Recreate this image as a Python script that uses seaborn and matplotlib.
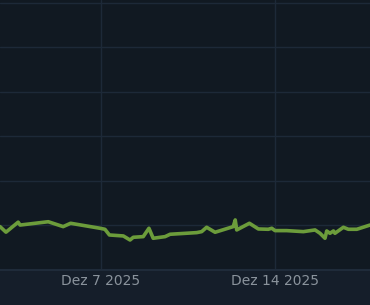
import matplotlib
matplotlib.use("Agg")
import matplotlib.pyplot as plt
import seaborn as sns
import pandas as pd

# Data (time stamps as days after Dec 7 2025, values)
day_offsets = [-4.06, -3.82, -3.33, -3.25, -2.12, -1.52, -1.22, -0.04, 0.16, 0.34,
               0.90, 1.17, 1.30, 1.70, 1.93, 2.10, 2.58, 2.78, 3.85, 4.05,
               4.25, 4.59, 5.19, 5.32, 5.40, 5.46, 5.97, 6.33, 6.73, 6.87,
               7.00, 7.47, 8.14, 8.61, 8.81, 9.01, 9.08, 9.21, 9.35, 9.41,
               9.75, 9.95, 10.29, 10.82]
values = [975, 850, 1075, 1010, 1085, 975, 1050, 938, 915, 787,
          765, 674, 735, 750, 938, 713, 750, 803, 840, 862,
          960, 848, 952, 975, 1125, 900, 1050, 922, 915, 938,
          885, 885, 862, 900, 825, 713, 877, 825, 877, 825,
          960, 915, 915, 1010]
tick_labels = ["Dez 7 2025", "Dez 14 2025"]
tick_days = [0, 7]

base = pd.Timestamp("2025-12-07")
df = pd.DataFrame({
    "time": [base + pd.Timedelta(days=d) for d in day_offsets],
    "value": values,
})

sns.set_theme(style="dark")
plt.rcParams["font.family"] = ["DejaVu Sans"]

fig = plt.figure(figsize=(3.7, 3.05), dpi=100)
fig.patch.set_facecolor("#151e2a")
ax = fig.add_axes([0, 35 / 305, 1, 270 / 305])
ax.set_facecolor("#111922")

sns.lineplot(data=df, x="time", y="value", ax=ax, color="#6c9c3b", linewidth=2.6)

ax.set_xlim(base + pd.Timedelta(days=-4.06), base + pd.Timedelta(days=10.82))
step = 1000
ax.set_ylim(0, step * 6.067)
ax.set_yticks([step * i for i in range(7)])
ax.set_yticklabels([])
ax.tick_params(axis="y", length=0)

ax.set_xticks([base + pd.Timedelta(days=d) for d in tick_days])
ax.set_xticklabels(tick_labels, color="#8a939c", fontsize=10)
ax.tick_params(axis="x", length=0, pad=3)

ax.grid(True, color="#1d2938", linewidth=1.0)
for s in ["top", "left", "right"]:
    ax.spines[s].set_visible(False)
ax.spines["bottom"].set_color("#1f2b3a")
ax.spines["bottom"].set_linewidth(1.5)
ax.set_xlabel("")
ax.set_ylabel("")

fig.savefig("out.png", dpi=100, facecolor=fig.get_facecolor())
